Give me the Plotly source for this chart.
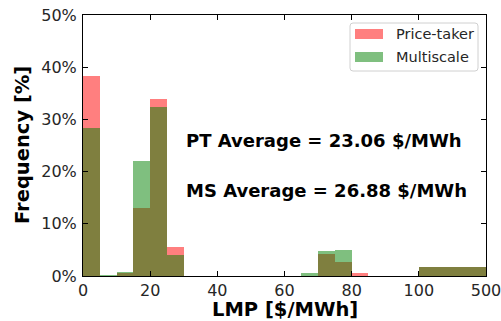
import plotly.graph_objects as go

# Histogram bin edges in $/MWh (last bin is the 100-500 overflow bin)
bin_edges = [0, 5, 10, 15, 20, 25, 30, 35, 40, 45, 50, 55, 60, 65, 70, 75, 80, 85, 90, 95, 100, 500]

# Frequency [%] per bin
price_taker = [38.3, 0.0, 0.5, 13.0, 33.9, 5.6, 0, 0, 0, 0, 0, 0, 0, 0.0, 4.2, 2.6, 0.5, 0, 0, 0, 1.7]
multiscale = [28.4, 0.25, 0.8, 22.0, 32.3, 4.0, 0, 0, 0, 0, 0, 0, 0, 0.5, 4.7, 4.9, 0.0, 0, 0, 0, 1.7]

series_names = ["Price-taker", "Multiscale"]
series_colors = ["rgba(255,0,0,0.5)", "rgba(0,128,0,0.5)"]

pt_average = 23.06
ms_average = 26.88

x_tick_vals = [0, 20, 40, 60, 80, 100, 120]
x_tick_text = ["0", "20", "40", "60", "80", "100", "500"]
y_tick_vals = [0, 10, 20, 30, 40, 50]
y_tick_text = ["0%", "10%", "20%", "30%", "40%", "50%"]


def to_axis(v):
    """Compress the 100-500 overflow range onto 100-120 of the axis."""
    return v if v <= 100 else 100 + (v - 100) * 20 / 400


left = [to_axis(e) for e in bin_edges[:-1]]
right = [to_axis(e) for e in bin_edges[1:]]
centers = [(a + b) / 2 for a, b in zip(left, right)]
widths = [b - a for a, b in zip(left, right)]

fig = go.Figure()
for name, vals, color in zip(series_names, [price_taker, multiscale], series_colors):
    fig.add_trace(go.Bar(
        x=centers, y=vals, width=widths, name=name, showlegend=False,
        marker=dict(color=color, line=dict(width=0)),
    ))

# Average annotations
text_font = dict(family="DejaVu Sans", size=18, color="black")
fig.add_annotation(x=30, y=26, xref="x", yref="y", xanchor="left", yanchor="middle",
                   text=f"<b>PT Average = {pt_average:.2f} $/MWh</b>",
                   showarrow=False, font=text_font)
fig.add_annotation(x=30, y=16.3, xref="x", yref="y", xanchor="left", yanchor="middle",
                   text=f"<b>MS Average = {ms_average:.2f} $/MWh</b>",
                   showarrow=False, font=text_font)

# Pixel helpers for paper coordinates (plot area is 403 x 261 px)
PW, PH = 403.0, 261.0


def px_x(p):
    return p / PW


def px_y(p):
    return p / PH


# Axis titles
fig.add_annotation(x=0.5, y=-px_y(33), xref="paper", yref="paper",
                   xanchor="center", yanchor="middle", showarrow=False,
                   text="<b>LMP [$/MWh]</b>",
                   font=dict(family="DejaVu Sans", size=19.5, color="black"))
fig.add_annotation(x=-px_x(60.5), y=0.5, xref="paper", yref="paper",
                   xanchor="center", yanchor="middle", showarrow=False, textangle=-90,
                   text="<b>Frequency [%]</b>",
                   font=dict(family="DejaVu Sans", size=19.5, color="black"))

# Legend box
lx0, lx1 = px_x(267), px_x(395)
ly0, ly1 = 1 - px_y(56), 1 - px_y(8)
rx, ry = px_x(3), px_y(3)
legend_path = (
    f"M {lx0 + rx},{ly1} L {lx1 - rx},{ly1} Q {lx1},{ly1} {lx1},{ly1 - ry} "
    f"L {lx1},{ly0 + ry} Q {lx1},{ly0} {lx1 - rx},{ly0} "
    f"L {lx0 + rx},{ly0} Q {lx0},{ly0} {lx0},{ly0 + ry} "
    f"L {lx0},{ly1 - ry} Q {lx0},{ly1} {lx0 + rx},{ly1} Z"
)
fig.add_shape(type="path", path=legend_path, xref="paper", yref="paper",
              line=dict(color="#d0d0d0", width=1), fillcolor="rgba(255,255,255,0.8)")
for i, (name, color) in enumerate(zip(series_names, series_colors)):
    cy = 19 + 23 * i
    fig.add_shape(type="rect", xref="paper", yref="paper",
                  x0=px_x(272), x1=px_x(300), y0=1 - px_y(cy + 5), y1=1 - px_y(cy - 5),
                  line=dict(width=0), fillcolor=color)
    fig.add_annotation(x=px_x(311), y=1 - px_y(cy), xref="paper", yref="paper",
                       xanchor="left", yanchor="middle", text=name, showarrow=False,
                       font=dict(family="DejaVu Sans", size=14.5, color="#262626"))

axis_common = dict(
    showline=True, linecolor="black", linewidth=1, mirror="ticks",
    ticks="inside", ticklen=5, tickwidth=1, tickcolor="black",
    showgrid=False, zeroline=False, ticklabeloverflow="allow", automargin=False,
    tickfont=dict(family="DejaVu Sans", size=16, color="#262626"),
)

fig.update_layout(
    width=501, height=321,
    margin=dict(l=83, r=15, t=15, b=45),
    barmode="overlay", bargap=0, showlegend=False,
    plot_bgcolor="white", paper_bgcolor="white",
    font=dict(family="DejaVu Sans"),
    xaxis=dict(range=[0, 120], tickmode="array", tickvals=x_tick_vals, ticktext=x_tick_text,
               ticklabelstandoff=0, **axis_common),
    yaxis=dict(range=[0, 50], tickmode="array", tickvals=y_tick_vals, ticktext=y_tick_text,
               ticklabelstandoff=2, **axis_common),
)

fig.write_html("out.html")
